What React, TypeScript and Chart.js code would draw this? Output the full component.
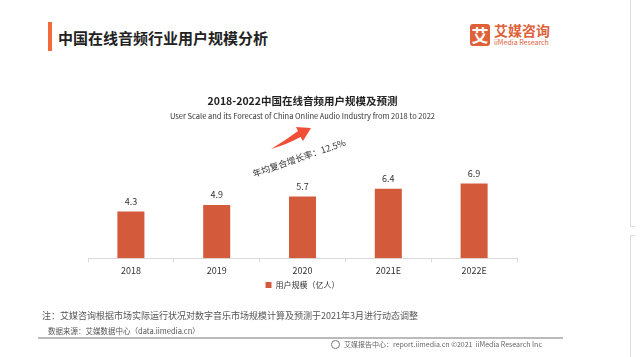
import React, { useEffect, useRef } from "react";
import { Chart, registerables } from "chart.js";

Chart.register(...registerables);

const categories = ["2018", "2019", "2020", "2021E", "2022E"];
const userScale = [4.3, 4.9, 5.7, 6.4, 6.9];
const seriesName = "用户规模（亿人）";
const pageTitle = "中国在线音频行业用户规模分析";
const chartTitle = "2018-2022中国在线音频用户规模及预测";
const chartSubtitle =
  "User Scale and its Forecast of China Online Audio Industry from 2018 to 2022";
const cagrLabel = "年均复合增长率：12.5%";
const noteText =
  "注：艾媒咨询根据市场实际运行状况对数字音乐市场规模计算及预测于2021年3月进行动态调整";
const sourceText = "数据来源：艾媒数据中心（data.iimedia.cn）";
const footerText = "艾媒报告中心：report.iimedia.cn ©2021  iiMedia Research Inc";

const FONT = '"Noto Sans CJK SC", "Noto Sans", sans-serif';
const BAR_COLOR = "#D35B3C";

const valueLabels = {
  id: "valueLabels",
  afterDatasetsDraw(chart: any) {
    const ctx = chart.ctx;
    const meta = chart.getDatasetMeta(0);
    const data = chart.data.datasets[0].data;
    ctx.save();
    ctx.font = `9px ${FONT}`;
    ctx.fillStyle = "#333333";
    ctx.textAlign = "center";
    ctx.textBaseline = "middle";
    meta.data.forEach((bar: any, i: number) => {
      ctx.fillText(String(data[i]), bar.x, bar.y - 10);
    });
    ctx.restore();
  },
};

export default function App() {
  const canvasRef = useRef<HTMLCanvasElement | null>(null);

  useEffect(() => {
    const canvas = canvasRef.current;
    if (!canvas) return;
    const chart = new Chart(canvas, {
      type: "bar",
      data: {
        labels: categories,
        datasets: [
          {
            label: seriesName,
            data: userScale,
            backgroundColor: BAR_COLOR,
            borderWidth: 0,
            barPercentage: 0.315,
            categoryPercentage: 1,
          },
        ],
      },
      options: {
        responsive: false,
        animation: false,
        devicePixelRatio: 1,
        layout: { padding: { top: 95, left: 88, right: 124, bottom: 58 } },
        plugins: {
          title: {
            display: true,
            text: chartTitle,
            color: "#222222",
            font: { family: FONT, size: 10.5, weight: "bold" },
            padding: { top: 0, bottom: 4.5 },
          },
          subtitle: {
            display: true,
            text: chartSubtitle,
            color: "#333333",
            font: { family: FONT, size: 7.5 },
            padding: { top: 0, bottom: 7 },
          },
          legend: {
            display: true,
            position: "bottom",
            labels: {
              color: "#333333",
              font: { family: FONT, size: 8 },
              boxWidth: 6,
              boxHeight: 6,
              padding: 2,
            },
          },
          tooltip: { enabled: false },
        },
        scales: {
          x: {
            grid: {
              display: true,
              drawOnChartArea: false,
              drawTicks: true,
              tickLength: 4,
              color: "#d9d9d9",
              offset: true,
            },
            border: { display: true, color: "#d9d9d9" },
            ticks: {
              padding: 3,
              color: "#333333",
              font: { family: FONT, size: 9 },
            },
          },
          y: { display: false, min: 0, max: 12 },
        },
      },
      plugins: [valueLabels],
    });
    return () => chart.destroy();
  }, []);

  return (
    <div
      style={{
        position: "fixed",
        left: 0,
        top: 0,
        width: 641,
        height: 357,
        background: "#ffffff",
        overflow: "hidden",
        fontFamily: FONT,
      }}
    >
      {/* page header */}
      <div style={{ position: "absolute", left: 48, top: 22, width: 3.5, height: 29, background: "#F26B3A" }} />
      <div
        style={{
          position: "absolute",
          left: 58,
          top: 28,
          fontSize: 15,
          lineHeight: "20px",
          fontWeight: "bold",
          color: "#222222",
          whiteSpace: "nowrap",
        }}
      >
        {pageTitle}
      </div>
      {/* logo */}
      <div
        style={{
          position: "absolute",
          left: 470,
          top: 24,
          width: 20,
          height: 22,
          background: "#E0603A",
          borderRadius: 3,
          color: "#ffffff",
          fontSize: 17,
          fontWeight: "bold",
          lineHeight: "22px",
          textAlign: "center",
        }}
      >
        艾
      </div>
      <div
        style={{
          position: "absolute",
          left: 494,
          top: 22,
          fontSize: 14,
          lineHeight: "17px",
          fontWeight: "bold",
          color: "#E0603A",
          whiteSpace: "nowrap",
        }}
      >
        艾媒咨询
      </div>
      <div
        style={{
          position: "absolute",
          left: 494,
          top: 38,
          fontSize: 7,
          lineHeight: "9px",
          color: "#E0603A",
          whiteSpace: "nowrap",
        }}
      >
        iiMedia Research
      </div>
      {/* right border decoration */}
      <div style={{ position: "absolute", left: 630, top: 0, width: 1, height: 227, background: "#dddddd" }} />
      <div style={{ position: "absolute", left: 630, top: 226, width: 5, height: 1, background: "#dddddd" }} />
      <div style={{ position: "absolute", left: 630, top: 235, width: 1, height: 122, background: "#dddddd" }} />
      <div style={{ position: "absolute", left: 630, top: 235, width: 5, height: 1, background: "#dddddd" }} />

      <canvas
        ref={canvasRef}
        width={641}
        height={357}
        style={{ position: "absolute", left: 0, top: 0, width: 641, height: 357 }}
      />

      {/* growth arrow and CAGR */}
      <svg
        width={641}
        height={357}
        style={{ position: "absolute", left: 0, top: 0, pointerEvents: "none" }}
      >
        <path
          d="M 271 149 Q 288 144 300.5 137 L 303 141 L 311 128 L 296 127 L 298 131 Q 286 140 271 149 Z"
          fill="#F04E37"
        />
      </svg>
      <div
        style={{
          position: "absolute",
          left: 299,
          top: 158,
          transform: "translate(-50%, -50%) rotate(-19deg)",
          fontSize: 9,
          lineHeight: "11px",
          color: "#333333",
          whiteSpace: "nowrap",
        }}
      >
        {cagrLabel}
      </div>

      {/* footer */}
      <div
        style={{
          position: "absolute",
          left: 42,
          top: 310,
          fontSize: 9,
          lineHeight: "12px",
          color: "#555555",
          whiteSpace: "nowrap",
        }}
      >
        {noteText}
      </div>
      <div
        style={{
          position: "absolute",
          left: 48,
          top: 326,
          fontSize: 7.5,
          lineHeight: "10px",
          color: "#555555",
          whiteSpace: "nowrap",
        }}
      >
        {sourceText}
      </div>
      <div style={{ position: "absolute", left: 38, top: 337, width: 525, height: 2, background: "#bbbbbb" }} />
      <div
        style={{
          position: "absolute",
          left: 331,
          top: 340,
          width: 9,
          height: 9,
          borderRadius: "50%",
          border: "1px solid #777777",
          boxSizing: "border-box",
        }}
      />
      <div
        style={{
          position: "absolute",
          left: 344,
          top: 339,
          fontSize: 7,
          lineHeight: "10px",
          color: "#666666",
          whiteSpace: "pre",
        }}
      >
        {footerText}
      </div>
    </div>
  );
}
